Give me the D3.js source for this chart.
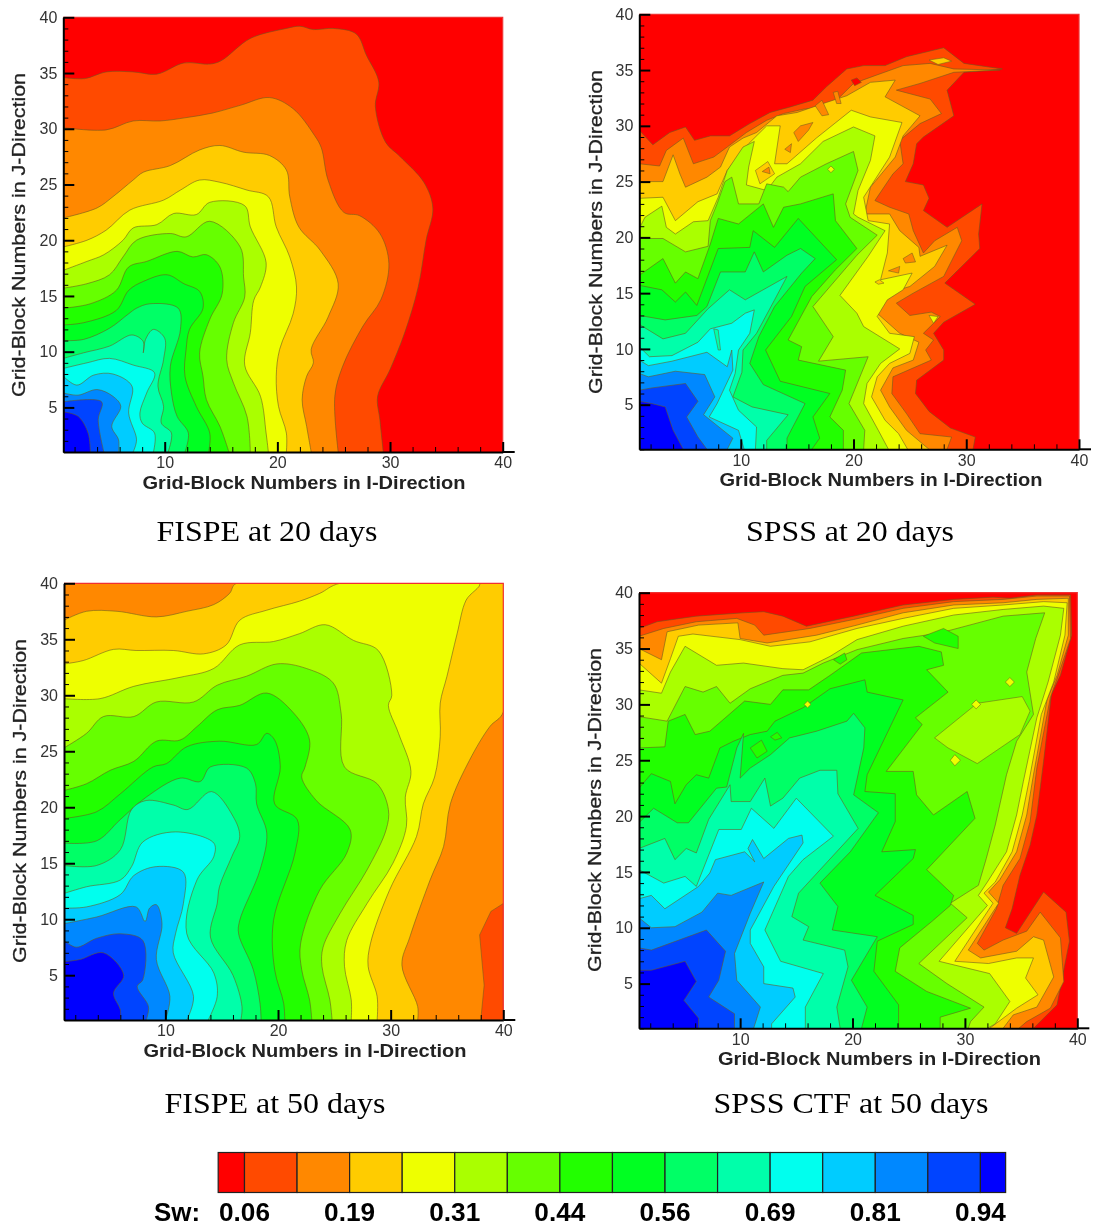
<!DOCTYPE html>
<html>
<head>
<meta charset="utf-8">
<script src="https://cdn.jsdelivr.net/npm/d3@7"></script>
<style>
  html, body { margin: 0; background: #fff; }
  svg { display: block; filter: blur(0.5px); }
  .domain { stroke: #000; stroke-width: 2; }
  .tick line { stroke: #000; }
</style>
</head>
<body>
<script>
// one colour per band of the Sw flood, red (dry) to blue (wet)
const bandColors = ['#ff0000', '#ff4a00', '#ff8800', '#ffcc00', '#eeff00', '#aaff00', '#66ff00', '#22ff00',
  '#00ff22', '#00ff66', '#00ffaa', '#00ffee', '#00ccff', '#0088ff', '#0044ff', '#0000ff'];
const swEdges = [0.0312, 0.0625, 0.125, 0.1875, 0.25, 0.3125, 0.375, 0.4375, 0.5, 0.5625, 0.625, 0.6875, 0.75, 0.8125, 0.875, 0.9375, 0.9675];
const swTicks = [0.0625, 0.1875, 0.3125, 0.4375, 0.5625, 0.6875, 0.8125, 0.9375];
const swLabels = ['0.06', '0.19', '0.31', '0.44', '0.56', '0.69', '0.81', '0.94'];
const iMajor = [10, 20, 30, 40];
const iMinor = [2, 4, 6, 8, 12, 14, 16, 18, 22, 24, 26, 28, 32, 34, 36, 38];
const jMajor = [5, 10, 15, 20, 25, 30, 35, 40];
const jMinor = [1, 2, 3, 4, 6, 7, 8, 9, 11, 12, 13, 14, 16, 17, 18, 19, 21, 22, 23, 24, 26, 27, 28, 29, 31, 32, 33, 34, 36, 37, 38, 39];

// contour lines as [i, j]; each one runs from the left edge round to the bottom edge
const fispe20Curves = [
  [[1,34.6],[2.9,34.5],[4.8,35.1],[7.2,35.1],[9.3,34.9],[11.7,35.9],[14,35.8],[15,36.1],[17.6,38.1],[20.8,39],[22,39.2],[23.2,38.9],[25,39],[27,38.5],[27.9,36.6],[29,34.2],[28.7,32],[29.6,28.8],[30.9,27.5],[33,25.2],[33.8,22.9],[33.2,20],[32.5,15.8],[31.3,11.7],[30,8.4],[28.9,6],[29.1,3.9],[29.4,1]],
  [[1,30.1],[4.8,29.9],[7.2,30.7],[9.6,30.7],[11.9,31],[14.2,31.4],[16.7,32.1],[19.3,32.8],[21.4,31.8],[23.3,29.4],[23.9,28.3],[24.5,25.4],[25.9,22.5],[27.3,22.2],[29.1,20.6],[29.9,17.9],[29.2,14.7],[27.6,12.3],[25.8,8.7],[25.1,6],[25.4,1]],
  [[1,22],[4,22.9],[5.4,23.9],[7.2,25.4],[8.1,26.1],[10.5,26.7],[13.1,28.1],[14.9,28.5],[17,27.9],[19.3,27.6],[20.8,26.3],[21.1,23.9],[21.9,21.2],[23.8,19.1],[25.4,16.1],[24.5,13.1],[23,10.2],[23.2,9],[22.6,7.8],[22.2,5.7],[22.6,3.3],[23,1]],
  [[1,19.4],[3.1,20],[4.8,20.9],[6.9,22.7],[9.9,23.6],[11.4,24.5],[13.1,25.4],[14.9,25.2],[17.3,24.5],[19.2,23.9],[19.9,21.2],[21.1,18.5],[21.7,15.8],[21.4,13.4],[20.2,10.2],[19.9,7.8],[20.1,5.1],[20.8,2.7],[20.8,1]],
  [[1,17.3],[3.1,18.1],[4.6,18.7],[6.3,20],[7.2,21.1],[9.3,21.4],[10.8,22.4],[12.8,22.3],[14,23.4],[17.1,23.1],[17.6,21.2],[19,18],[18.5,15.8],[17.9,14.6],[17.6,11.7],[17.1,8.8],[18.5,6],[19,2.7],[19.2,1]],
  [[1,15.7],[3.1,16.1],[5.1,16.9],[6.3,18.5],[7.5,20],[10.5,20.6],[11.9,20.3],[14,21.7],[16.7,19.4],[17,16.7],[17.1,14.9],[16.1,12.6],[15.5,9.3],[16.1,7.2],[17.3,4.2],[17.6,1]],
  [[1,13.9],[3.4,14.3],[5.7,15.5],[6.8,17.6],[8.4,18.1],[11.1,19],[12.5,18.5],[13.7,18.7],[14.9,17.6],[15.1,15.2],[14,12.9],[13.1,9.9],[13.4,7.8],[13.7,5.7],[14.9,3.3],[15.7,1]],
  [[1,12.4],[2.8,12.6],[5.7,13.7],[6.8,15.5],[8.1,16.3],[10.2,16.9],[11.7,16.1],[13.1,15.4],[13.4,13.9],[12.2,12],[11.9,10.2],[11.8,7.8],[12.8,5.1],[14,2.7],[13.9,1]],
  [[1,11],[2.8,11.1],[5.1,12.1],[6.8,13.4],[7.5,13.9],[8.7,14.3],[11.2,13.9],[11.4,12],[10.5,8.7],[10.6,6.3],[11.1,4.2],[12.1,2.7],[11.8,1]],
  [[1,9.4],[2.8,9.9],[5.1,10.5],[7.1,11.5],[8.1,10.9],[8.1,9.9],[8.3,11.1],[9,12],[10,11.2],[9.9,9.3],[9.4,6.9],[9.9,5.1],[9.7,3.6],[10.6,2.7],[10.3,1]],
  [[1,8.5],[3.1,9],[5.1,9.4],[7.2,8.8],[9.1,8.1],[8.4,6.3],[7.8,4.5],[8,3.6],[9.1,2.7],[9,1]],
  [[1,7.8],[2.2,7],[3.7,7.9],[5.4,8],[7.1,6.9],[6.8,4.5],[7.5,2.1],[7.2,1]],
  [[1,6.3],[2.3,6.1],[4,6.6],[5.4,6],[6.1,5.1],[5.3,3.3],[5.9,2.1],[5.9,1]],
  [[1,5.5],[4.4,5.5],[4.1,3.9],[4.6,1]],
  [[1,4.6],[2.3,4.2],[3.2,2.7],[3.4,1]]
];

const spss20Curves = [
  [[1,29.6],[2.2,28.3],[3.7,29.4],[5.1,29.9],[5.9,28.7],[7.3,29.1],[9,29.1],[10.8,30.2],[12.6,31.2],[14.4,31.7],[16.4,32.3],[17.6,33.5],[19.4,35.1],[20.9,35.4],[22.8,35.4],[24.7,36.2],[28,37],[29.8,35.6],[33.2,35.1],[29.8,34.8],[28.3,33.2],[28.9,30.9],[26.2,29],[25.6,28.4],[25.3,26.6],[24.6,25],[26.2,24.7],[26.7,23.5],[26.2,22.4],[28.3,20.9],[31.4,23],[31.1,20.3],[31.2,19],[28.1,15.9],[30.8,14],[28,12.4],[27.1,11.4],[28,9.9],[28,9],[25.6,7.2],[25.5,6],[26.7,4.4],[28.6,2.9],[30.8,2.1],[30.6,1]],
  [[1,26.6],[2.8,26.4],[3.4,27.8],[4.9,28.9],[5.8,26.6],[7.6,27.2],[8.8,28.1],[10.5,29.4],[12.3,30.5],[13.8,31.1],[15.6,31.5],[17.9,31.7],[20,33.8],[21.9,34.5],[24.4,35.4],[26.8,35.6],[28.9,35.1],[33,35],[28.9,34.8],[25.9,33.8],[23.8,33.2],[26.8,32.4],[27.8,31.1],[25.9,30.2],[24.1,28.7],[24.4,26.6],[23.5,25.7],[21.9,23.3],[23.2,22.7],[24.9,22.1],[25.3,20.6],[26.2,18.6],[27.2,19.7],[29.2,20.9],[29.6,19.7],[28,16.5],[25.3,15],[23.8,14.1],[25,13],[26.9,13.3],[27.7,12.9],[26.2,11.4],[27.1,10.8],[26.4,9.9],[26.9,9],[23.5,7.5],[23.4,6],[24.7,4.2],[25.9,2.4],[28.7,2.1],[28.3,1]],
  [[1,25],[3.1,25],[4,27.4],[4.6,25.7],[5.1,24.5],[7,25.4],[8.2,26.3],[9,28.1],[10.2,28.9],[11.4,29.4],[13.2,30.9],[15,31.2],[17.6,32.1],[19.4,32.7],[21.5,33.9],[23.7,34.1],[22.8,32.6],[25.9,30.9],[24.4,29.1],[23.7,27.2],[21.5,24.5],[21,22.1],[23.2,22.1],[24.1,20.6],[25.8,19.1],[25.9,18.3],[28.3,19.3],[27.2,17.4],[25,15.6],[23,15],[22.1,13.2],[24.1,11.4],[25.8,10.6],[25.3,9],[23.5,8.3],[22.4,6.3],[23.2,4.8],[24.7,2.7],[26.7,1]],
  [[1,23.5],[3.1,23.6],[4.2,21.5],[6.2,23.2],[7.9,23.9],[8.8,26],[10.7,28.4],[12.3,30],[13.5,30],[13,26.6],[14.1,26.6],[16.7,28.9],[19.8,31.4],[21.5,30.8],[24.3,30.3],[23.2,27.2],[20.9,23.6],[21.3,21.5],[23.2,21.2],[23,18.6],[22.4,16.2],[25.2,16.8],[24.4,15.3],[23,14.4],[22.1,12.9],[23.2,11.4],[25.4,11.1],[25,9.6],[23.2,8.7],[22.1,7.5],[21.6,5.7],[22.8,3.6],[24,2.4],[24.8,1]],
  [[1,20.8],[1.5,21.8],[3,22.8],[3.4,20.9],[4.2,20.3],[5.8,21.4],[7.1,21.5],[8,23.6],[8.8,26],[10.2,28.1],[11.2,28.6],[10.7,26.3],[10.5,24.7],[12.3,24.2],[13.2,25.4],[15.3,26.6],[17.3,28.6],[20,29.9],[21.9,29.1],[21.5,26.9],[20.4,24.2],[20,22.1],[20.4,21.8],[22.8,20.6],[21.3,18.3],[18.8,14.8],[20.3,13.2],[20.9,12],[24.1,10],[22.4,8.7],[21.2,6.9],[20.9,5.1],[22.2,2.7],[23.1,1]],
  [[1,19.9],[3.1,19.9],[5.1,18.7],[7.1,19.2],[7.3,21.5],[7.9,23],[8.6,25],[9.2,25.4],[9.8,23],[11.6,23],[12.3,24.8],[13.8,24.5],[14.2,24.1],[15.3,25.4],[17.6,26.6],[20,27.7],[20.4,26],[19.3,23],[19.7,21.8],[22.1,20.2],[20.3,18.4],[16.4,13.8],[18.2,11.1],[16.9,8.9],[21.3,9.3],[19.6,5.1],[21,2.7],[20.9,1]],
  [[1,16.6],[3.1,18.1],[4.2,15.9],[5.1,16.9],[6.2,16.3],[7.3,19.4],[8,21.7],[9.8,21.2],[12,23],[12.9,20.9],[13.8,22.7],[15.3,23],[18.2,23.9],[18.4,21.5],[20.3,19],[18.4,17.1],[16.3,14.7],[14.2,10.8],[15.4,10.2],[15.1,9],[19.3,8.1],[19,6.3],[17.9,3.9],[19.1,2.7],[19.1,1]],
  [[1,15.7],[3,15.3],[4.2,14.2],[5.1,15.1],[6.1,13.9],[8,19],[10.8,19.1],[11.1,20.6],[13,19.1],[15.1,21.7],[18.5,18],[15.7,15.6],[14.5,12.9],[12.2,9.9],[13.5,7.1],[17.9,6],[16.4,3.9],[17,2],[16.3,1]],
  [[1,13],[3.3,12.6],[6.1,13],[7,13.8],[8.2,16.9],[10.4,16.9],[11.2,18.7],[12,16.9],[14.1,18.4],[15.3,19],[16.6,18.1],[15.4,16.8],[13,13.8],[11.6,11.1],[10.8,8.7],[12,6.8],[15.7,5.1],[14.1,2],[14.1,1]],
  [[1,12.2],[3.1,10.9],[5.1,11.4],[7.1,13.6],[9,15.3],[10.4,14.4],[14.1,16.5],[13,14.4],[11.4,11.4],[10.2,9.9],[10.1,7.9],[9.3,5.7],[11,4.8],[14.2,4.1],[12.3,1.8],[12.3,1]],
  [[1,10.2],[1.9,9.3],[3.9,9.4],[6.2,10.6],[7.3,11.8],[9.2,12.3],[10.4,13.2],[11.2,13.5],[10.8,11.4],[9.8,9.9],[9.5,7.8],[9,6.3],[9.8,4.5],[11.4,3],[11.3,1]],
  [[1,9],[1.8,8.5],[3.9,8.9],[7,9.7],[8.8,8.4],[9.2,9.9],[9.3,8.1],[7.9,5.1],[7.2,3.9],[9.8,2.7],[10.3,1]],
  [[1,7.8],[1.8,7.5],[4.2,8],[6.8,7.7],[7.7,5.7],[6.7,4.1],[9.3,2],[8.8,1]],
  [[1,6.3],[2.1,6.5],[5.1,6.9],[6.2,5.3],[5.2,3.9],[6.2,2.1],[7,1]],
  [[1,5.3],[2.1,5.1],[3.3,4.8],[4,2.7],[4.9,1]]
];

const fispe50Curves = [
  [[1,36.7],[3,37.5],[5.7,37.5],[9.2,37],[11.9,37.5],[14.3,38.1],[15.7,39.1],[16.3,40],[40,40],[40,28.5],[38.8,27.2],[37,24.2],[35.3,20.3],[34.7,16.5],[33.5,13.5],[31.7,8.4],[31,5.9],[32.4,2.2],[32.4,1]],
  [[1,32.8],[2.7,33.1],[5.4,34.1],[7.4,34],[10.7,34],[13.4,33.7],[15.4,34.5],[16.6,36.7],[19,37.6],[21.9,38.4],[23.7,39.1],[25.5,40],[37.9,40],[36.7,38.5],[35.9,35.5],[35,31.7],[34.4,29.3],[34.4,26.3],[33.9,22.7],[32.9,20.3],[32.3,17.4],[29.9,12.6],[28.2,7.8],[28,5.8],[28.8,3.1],[28.8,1]],
  [[1,29.7],[4.2,29.7],[7.2,30.8],[11.3,31.6],[14.3,32.4],[16.6,34.5],[19.6,34.8],[21.9,35.5],[24.2,36.3],[26.7,34.9],[28.9,34],[30.1,30],[29.8,29.1],[30.7,26.6],[31.8,23.2],[31.3,20.9],[31.4,18.3],[30.2,15],[27.9,11.4],[26.1,8.1],[25.9,5.8],[26.5,2.8],[26.5,1]],
  [[1,25.3],[3,26.6],[4.5,28.1],[7.2,28.1],[9.2,29.4],[12.5,29.4],[14.6,30.9],[17.2,31.7],[19.9,32.8],[22.5,32.4],[24.9,31.1],[25.6,28.4],[25.9,23.6],[28.8,22.1],[29.8,19.8],[29.6,18],[27.9,14.4],[25.5,10.5],[24,7.5],[23.9,5.8],[24.6,2.8],[24.8,1]],
  [[1,21.5],[3,22.1],[5.1,23.3],[7.2,24.1],[9.2,25.9],[11.3,26],[12.8,27.2],[14.6,28.7],[16.6,29.1],[19,30.2],[21.4,28.4],[22.8,26],[22.4,23.6],[22.1,22.7],[23.4,20.6],[26.4,18],[26.1,15.9],[23.7,12.6],[22,7.8],[22.1,5.5],[22.8,2.8],[23,1]],
  [[1,19],[3.9,19.6],[6,21.2],[8.9,23.6],[10.1,23.9],[11.9,25.4],[14.8,25.9],[18.1,25.6],[19,26.6],[19.7,26],[20.2,23.6],[19.7,20.3],[21.7,18.9],[21.5,15.9],[19.6,9.9],[19.7,5.5],[20.5,2.5],[20.6,1]],
  [[1,16.8],[3.9,17],[6,18.9],[8.3,20.9],[11.3,22.6],[13.1,22.3],[14,23.6],[17.2,23.5],[18,22.1],[18.1,20.3],[19,17.7],[18.4,14.4],[16.6,9.9],[16.5,8.7],[17.8,5.5],[18.4,2.5],[18.5,1]],
  [[1,14.8],[3.9,14.8],[6,16.2],[7,19.8],[8.3,20.6],[10.7,20.2],[12,19.8],[14.1,21.4],[16,19.2],[16.6,17.4],[15.9,15.6],[14.8,12.9],[14.6,11.4],[14,8.4],[16,5],[16.8,2.2],[16.7,1]],
  [[1,12.3],[3,12.9],[6,13.5],[7,14.7],[8,16.9],[10.9,17.8],[14.3,16.8],[14.3,15.6],[12.8,13.5],[11.9,8.7],[14.3,5.2],[14.6,3.1],[13.8,1]],
  [[1,11],[3,11.1],[6,12.2],[7.2,13.9],[9.2,14.7],[11.6,14.2],[11.6,11.4],[10.9,8.7],[10.7,7],[12.5,3.1],[11.9,1]],
  [[1,9.6],[3.9,10.2],[7.4,11.1],[8.2,9.8],[8.6,11],[9.2,11.3],[9.7,9.6],[9.2,6.4],[10.4,3.1],[10,1]],
  [[1,8.1],[2.1,7.5],[3.9,8.3],[6,8.7],[8,8.1],[8,4.6],[7.5,4],[8.5,2.2],[8.3,1]],
  [[1,6.2],[2.4,6.4],[4.5,7],[6.3,5],[5.4,3.4],[6,1.9],[6,1]]
];

const spssCtf50Curves = [
  [[1,36.8],[2.6,37.4],[6.1,37.9],[10.3,38.2],[12.1,38.3],[13.8,37.9],[15.9,37],[20.1,37.9],[24.5,38.9],[29,39.4],[32.5,39.6],[34,39.5],[36.4,39.8],[39.4,39.8],[39.5,36.2],[38.5,32.6],[37.7,30.9],[37,24.9],[36.4,20.1],[35.8,17.4],[34.9,14.7],[34.2,11.7],[33.6,10],[34.6,9.5],[37,13.2],[39,11.4],[39.3,8.8],[38.6,5.2],[38.2,3.1],[37,1.9],[36.1,1]],
  [[1,36.1],[3.2,36.8],[6.1,37.4],[9.7,37.7],[11.3,37.1],[12.1,36.2],[16.2,36.8],[20.1,37.6],[24.5,38.6],[29,39.2],[33.4,39.4],[36.4,39.7],[39.3,39.7],[39.4,35.9],[38.3,32.6],[37.6,30.6],[36.4,24.3],[35.8,19.5],[34.9,16.2],[33.4,13.8],[32.8,11.7],[31.1,8.6],[31.7,8],[33.4,8.9],[35.5,9.7],[36.7,11.4],[38.5,9.1],[38.8,5.2],[37.6,2.8],[35.5,1.6],[34.8,1]],
  [[1,35],[3,34],[3.5,36.5],[6.3,37.1],[9.8,37.3],[10,35.9],[12.4,35.5],[16.8,36.2],[20.4,37.1],[24.5,38.2],[29,38.9],[33.4,39.1],[36.4,39.4],[39.2,39.5],[39.2,36.2],[38.2,32.6],[37.3,30.4],[36.1,23.7],[35.5,20.1],[34.6,16.8],[33.1,14.3],[32.1,13.2],[33,12.2],[30.3,8],[31.4,7.3],[34.6,7.9],[36.1,9.2],[37,8.9],[37.9,5.6],[36.4,2.9],[34.3,2.2],[33.4,1]],
  [[1,33.7],[3,31.9],[3.8,34.1],[4.5,36.1],[5.8,36.3],[10,35.8],[12.7,35.2],[16.2,35.6],[20.4,36.8],[24.5,37.7],[29,38.6],[33.4,38.9],[37,39.2],[39.1,39.1],[38.9,36.2],[37.9,32],[36.8,29.1],[35.7,23.1],[35.1,20.1],[34.2,16.8],[32.7,14.1],[31.7,13.1],[32.5,12.2],[29.1,7],[32.1,6.8],[34.6,7.3],[36.1,7.3],[35.4,5.5],[36.5,4],[34.6,2.8],[32.2,1]],
  [[1,31.3],[3,31],[3.8,32.9],[5.1,35.2],[7.9,33.5],[10.3,33.7],[13.8,33.2],[15.6,33.1],[18,34.3],[20.4,35.8],[24.5,37],[29,38],[33.4,38.5],[37,38.8],[38.8,38.6],[38.5,36.2],[37.4,32],[36.4,28.8],[35.2,23.1],[34.6,20.1],[33.7,16.8],[32,14.1],[31.2,12.9],[32,12],[27.7,7],[32.2,5.9],[34,3.4],[32.7,1.4],[32,1]],
  [[1,28.9],[3.5,28.5],[5.1,31.6],[6.7,31.1],[7.9,31.6],[9.1,30.1],[10.9,31.4],[13.8,32.6],[15.6,32.8],[17.4,33.7],[20.4,34.9],[24.5,35.9],[27.8,36.4],[33.4,37.9],[37.1,38.2],[36.3,35.9],[35.5,32.9],[36.1,29.1],[34.6,26.7],[33.7,23.7],[32.7,19.2],[31.9,16.2],[31.2,13.8],[28.7,12.2],[30.2,10.9],[25.9,6.8],[28.4,5],[31.7,2.9],[30.5,1.6],[30.3,1]],
  [[1,26.1],[3.3,26.2],[3.6,28.5],[5.1,29.1],[6,27.3],[7.3,27.6],[10.4,30.3],[12.7,30],[13.8,31.3],[16.1,31.3],[18,32.6],[20.8,34.6],[25.9,35.2],[27.9,34.7],[28.1,33.5],[26.6,33.1],[28.5,31.1],[25.6,28.8],[26.2,28.2],[23,24],[25.4,24],[25.7,21.9],[27.2,20.1],[30.2,22.2],[30.9,19.8],[26.6,15.2],[29,12.9],[28.7,12],[27.1,10.6],[24.2,8.2],[23.8,6.1],[26.6,4.3],[30.5,2.8],[27.8,2],[27.8,1]],
  [[1,22.5],[2.1,23.8],[3.8,23.1],[4.2,21.1],[5.2,22.8],[6.1,23.7],[7.2,23.4],[8.2,26.1],[9.4,26.7],[10.9,27.3],[12.4,27.6],[13.1,28.5],[15.6,29.7],[18,31.4],[21.1,32.2],[21.3,31.1],[24.5,30.4],[21.3,23.7],[21.1,22.2],[23.8,22],[23.8,19.5],[22.6,16.8],[25.6,17],[25.4,16.2],[22,12.9],[25.4,11.1],[25.4,10.3],[22.2,8.8],[21.9,6.1],[24.1,3.1],[24.1,1]],
  [[1,19.4],[2.3,20.7],[4.4,19.4],[5.4,19.4],[7.9,22.5],[8.8,22.6],[9.7,26.1],[10.3,27.4],[10,23.4],[10.9,24.3],[12.7,25.5],[14.4,27],[16.8,27.6],[19.5,28.5],[20.1,29.2],[21.1,27.9],[21,26.1],[20.1,21.9],[22.3,20.3],[19.8,16.8],[17.1,14],[18.7,11.9],[18.2,9.8],[22.2,9.2],[19.9,5.3],[21.3,2.9],[20.8,1]],
  [[1,17.1],[3.3,18],[4.2,16.1],[5.2,17.1],[6.1,16.7],[7.2,19.7],[9.1,22.8],[9.2,21.3],[10.9,21.3],[12.2,23.4],[12.7,20.9],[13.8,21.6],[15.3,23.4],[17.1,24.1],[18.6,24.1],[18.7,22],[20.5,18.9],[15.2,13.1],[14.6,11],[16.1,10.1],[15.6,8.9],[19.3,8],[19.6,6.5],[18.6,2.9],[18.9,1]],
  [[1,15.2],[3.2,14],[5.1,14.6],[6.1,13.7],[8.1,18.8],[10.1,18.8],[11,20.7],[13,18.9],[15,21.6],[18.3,18.2],[15.6,16.1],[14.3,14.6],[12.2,9.8],[13.6,7],[17.4,5.9],[15.8,2.9],[15.8,1]],
  [[1,12.6],[2.1,12.9],[3.3,11.7],[6.3,13.7],[7.3,14.9],[7.8,16.1],[10.4,16.8],[11.3,15.9],[10.7,17.1],[11.1,17.9],[12.1,16.2],[14.3,18],[15.5,18.3],[15.6,17.6],[13,13.7],[10.9,9.8],[10.9,8.6],[12.1,6.5],[12.1,5],[14.7,4.6],[14.9,3.8],[12.8,1.4],[12.8,1]],
  [[1,10.9],[2.1,10],[4.2,10.1],[6.6,11.4],[8,13.1],[9.2,12.9],[12.1,14.1],[10.9,11.3],[9.5,7.7],[9.7,5.3],[11.8,2.9],[11.2,1]],
  [[1,8.2],[2.1,8],[7,9.8],[8.7,7.9],[8.1,5.3],[7.2,3.8],[9.5,2.3],[9.5,1]],
  [[1,6.2],[2.1,6.2],[5.1,7],[6.1,5.2],[5,3.5],[6.3,1.9],[6.3,1]]
];

// closed islands, each [band, outline]
const fispe50Patches = [
  [1, [[40,11.4],[38.9,10.7],[37.9,8.6],[38.2,5.2],[38.3,4.1],[38,1],[40,1]]]
];
const spss20Patches = [
  [2, [[14.7,29.4],[15.3,30],[16.4,30.3],[16,29.6],[15.1,28.6]]],
  [2, [[13.9,27.9],[14.5,28.4],[14.4,27.6]]],
  [3, [[11.3,26],[12.4,26.8],[13,25.7],[11.7,24.8]]],
  [2, [[11.9,25.9],[12.5,26.3],[12.6,25.7]]],
  [3, [[26.7,35.9],[28,36.1],[28.7,35.8],[27.5,35.5]]],
  [2, [[16.6,31.8],[17.2,32.3],[17.8,31],[17.2,30.9]]],
  [2, [[18.2,33],[18.6,33.1],[18.9,32],[18.5,32]]],
  [0, [[19.8,34.1],[20.3,34.3],[20.7,33.9],[20.1,33.6]]],
  [2, [[23.1,17],[24.1,17.4],[24,16.8]]],
  [2, [[24.4,18.1],[25.2,18.6],[25.5,17.8],[24.6,17.7]]],
  [3, [[21.9,16],[22.3,16.2],[22.7,15.9],[22.2,15.8]]],
  [4, [[17.7,26.1],[18,26.4],[18.3,26.1],[18,25.8]]],
  [4, [[26.7,13],[27.5,12.9],[27.1,12.3]]],
  [10, [[7.6,11.8],[8,11.7],[8.2,9.9],[8,9.9]]]
];
const spssCtf50Patches = [
  [7, [[26.3,36.1],[28.1,36.8],[29.4,36.1],[29.4,35],[27.3,35.5]]],
  [7, [[18.3,34],[19.3,34.6],[19.5,34],[18.9,33.6]]],
  [7, [[10.9,26.1],[11.9,26.8],[12.4,25.8],[11.5,25.2]]],
  [7, [[12.7,27.1],[13.3,27.5],[13.7,27],[13.1,26.8]]],
  [5, [[27.3,27],[31.1,30.1],[35.1,30.7],[35.8,29.4],[34.9,27.3],[31.1,24.7],[28.5,26.1]]],
  [4, [[30.6,30],[31,30.4],[31.4,30],[31,29.6]]],
  [4, [[33.6,32],[34,32.4],[34.4,32],[34,31.6]]],
  [4, [[28.7,25],[29.1,25.5],[29.6,25],[29.1,24.5]]],
  [4, [[15.7,30],[16,30.3],[16.3,30],[16,29.7]]]
];

// page layout of the four plots; the FISPE floods are smooth, the SPSS ones angular
const panels = [
  { caption: 'FISPE at 20 days', capX: 267, capY: 541, capW: 221, smooth: true, left: 63.3, right: 502.7, top: 17.3, bottom: 452, yLabelX: 18, yLabelY: 235, xLabelX: 304, xLabelY: 483, base: 0, curves: fispe20Curves, patches: [] },
  { caption: 'SPSS at 20 days', capX: 850, capY: 541, capW: 208, smooth: false, left: 639.3, right: 1079, top: 14.3, bottom: 449.3, yLabelX: 595, yLabelY: 232, xLabelX: 881, xLabelY: 480, base: 0, curves: spss20Curves, patches: spss20Patches },
  { caption: 'FISPE at 50 days', capX: 275, capY: 1113, capW: 221, smooth: true, left: 64, right: 503.3, top: 583.3, bottom: 1020, yLabelX: 19, yLabelY: 801, xLabelX: 305, xLabelY: 1051, base: 2, curves: fispe50Curves, patches: fispe50Patches },
  { caption: 'SPSS CTF at 50 days', capX: 851, capY: 1113, capW: 275, smooth: false, left: 639, right: 1077.3, top: 592.7, bottom: 1028.3, yLabelX: 594, yLabelY: 810, xLabelX: 879.5, xLabelY: 1059, base: 0, curves: spssCtf50Curves, patches: spssCtf50Patches }
];

const svg = d3.select('body').append('svg')
  .attr('width', 1094)
  .attr('height', 1228);

panels.forEach((p, n) => {
  const x = d3.scaleLinear().domain([1, 40]).range([p.left, p.right]);
  const y = d3.scaleLinear().domain([1, 40]).range([p.bottom, p.top]);
  const line = d3.line().x(d => x(d[0])).y(d => y(d[1]))
    .curve(p.smooth ? d3.curveCatmullRom.alpha(0.5) : d3.curveLinear);
  const straight = d3.line().x(d => x(d[0])).y(d => y(d[1]));

  svg.append('clipPath').attr('id', `clip${n}`)
    .append('rect')
    .attr('x', x(1)).attr('y', y(40))
    .attr('width', x(40) - x(1)).attr('height', y(1) - y(40));

  const g = svg.append('g').attr('clip-path', `url(#clip${n})`);

  g.append('rect')
    .attr('x', x(1)).attr('y', y(40))
    .attr('width', x(40) - x(1)).attr('height', y(1) - y(40))
    .attr('fill', bandColors[p.base]);

  // painter's order: every curve closes through the corner (1,1) and covers the one before
  p.curves.forEach((curve, k) => {
    g.append('path')
      .attr('d', `${line(curve)}L${x(1)},${y(1)}Z`)
      .attr('fill', bandColors[p.base + 1 + k]);
    g.append('path')
      .attr('d', line(curve))
      .attr('fill', 'none')
      .attr('stroke', '#6b5a1e')
      .attr('stroke-opacity', 0.65)
      .attr('stroke-width', 0.9);
  });

  p.patches.forEach(d => {
    g.append('path')
      .attr('d', straight(d[1]) + 'Z')
      .attr('fill', bandColors[d[0]])
      .attr('stroke', '#6b5a1e')
      .attr('stroke-opacity', 0.65)
      .attr('stroke-width', 0.8);
  });

  // thin red rim on the top and right
  svg.append('path')
    .attr('d', straight([[1, 40], [40, 40], [40, 1]]))
    .attr('fill', 'none')
    .attr('stroke', '#f03030')
    .attr('stroke-width', 1.2);

  // axes: ticks point into the plot
  const fmt = d => d;
  svg.append('g')
    .attr('transform', `translate(0, ${y(1)})`)
    .call(d3.axisBottom(x).tickValues(iMinor).tickSize(-5).tickFormat(''))
    .call(a => a.select('.domain').remove());
  const xAxis = svg.append('g')
    .attr('transform', `translate(0, ${y(1)})`)
    .call(d3.axisBottom(x).tickValues(iMajor).tickSizeInner(-10).tickSizeOuter(0).tickPadding(5).tickFormat(fmt));
  xAxis.selectAll('.tick line').attr('stroke-width', 2);
  xAxis.append('line')
    .attr('x1', x(40)).attr('x2', x(40) + 12)
    .attr('stroke', '#000').attr('stroke-width', 2);

  svg.append('g')
    .attr('transform', `translate(${x(1)}, 0)`)
    .call(d3.axisLeft(y).tickValues(jMinor).tickSize(-5).tickFormat(''))
    .call(a => a.select('.domain').remove());
  const yAxis = svg.append('g')
    .attr('transform', `translate(${x(1)}, 0)`)
    .call(d3.axisLeft(y).tickValues(jMajor).tickSizeInner(-11).tickSizeOuter(0).tickPadding(6).tickFormat(fmt));
  yAxis.selectAll('.tick line').attr('stroke-width', 2);

  svg.selectAll('.tick text')
    .attr('font-family', '"Liberation Sans", Arial, sans-serif')
    .attr('font-size', 16)
    .attr('fill', '#333');

  svg.append('text')
    .attr('x', p.xLabelX).attr('y', p.xLabelY).attr('dy', '.35em')
    .attr('text-anchor', 'middle')
    .attr('font-family', '"Liberation Sans", Arial, sans-serif')
    .attr('font-weight', 'bold')
    .attr('font-size', 18)
    .attr('fill', '#222')
    .attr('textLength', 323)
    .attr('lengthAdjust', 'spacingAndGlyphs')
    .text('Grid-Block Numbers in I-Direction');

  svg.append('text')
    .attr('transform', `translate(${p.yLabelX}, ${p.yLabelY}) rotate(-90)`)
    .attr('dy', '.35em')
    .attr('text-anchor', 'middle')
    .attr('font-family', '"Liberation Sans", Arial, sans-serif')
    .attr('font-size', 19)
    .attr('fill', '#222')
    .attr('stroke', '#222')
    .attr('stroke-width', 0.3)
    .attr('textLength', 324)
    .attr('lengthAdjust', 'spacingAndGlyphs')
    .text('Grid-Block Numbers in J-Direction');

  svg.append('text')
    .attr('x', p.capX).attr('y', p.capY)
    .attr('text-anchor', 'middle')
    .attr('font-family', '"Liberation Serif", "Times New Roman", serif')
    .attr('font-size', 30)
    .attr('fill', '#000')
    .attr('textLength', p.capW)
    .attr('lengthAdjust', 'spacingAndGlyphs')
    .text(p.caption);
});

// colour bar
const legendX = d3.scaleLinear().domain([0.0625, 0.9375]).range([244.5, 980.4]);
const legend = svg.append('g');
legend.selectAll('rect')
  .data(bandColors)
  .enter()
  .append('rect')
  .attr('x', (d, i) => legendX(swEdges[i]))
  .attr('y', 1152.5)
  .attr('width', (d, i) => legendX(swEdges[i + 1]) - legendX(swEdges[i]))
  .attr('height', 40)
  .attr('fill', d => d)
  .attr('stroke', '#222')
  .attr('stroke-width', 1.2);

legend.selectAll('text.sw')
  .data(swTicks)
  .enter()
  .append('text')
  .attr('class', 'sw')
  .attr('x', d => legendX(d))
  .attr('y', 1221)
  .attr('text-anchor', 'middle')
  .attr('font-family', '"Liberation Sans", Arial, sans-serif')
  .attr('font-weight', 'bold')
  .attr('font-size', 25)
  .attr('fill', '#000')
  .attr('textLength', 51)
  .attr('lengthAdjust', 'spacingAndGlyphs')
  .text((d, i) => swLabels[i]);

legend.append('text')
  .attr('x', 154).attr('y', 1221)
  .attr('font-family', '"Liberation Sans", Arial, sans-serif')
  .attr('font-weight', 'bold')
  .attr('font-size', 25)
  .attr('fill', '#000')
  .attr('textLength', 46)
  .attr('lengthAdjust', 'spacingAndGlyphs')
  .text('Sw:');
</script>
</body>
</html>
